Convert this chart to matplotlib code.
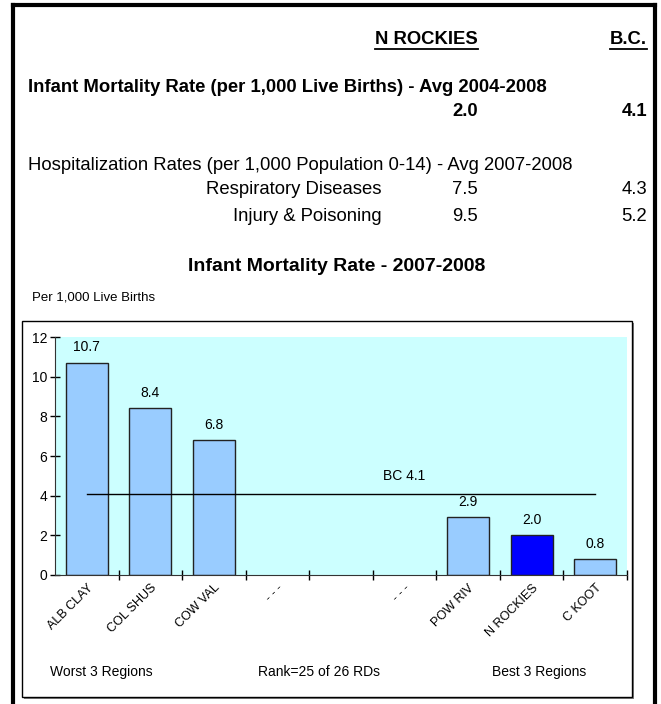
import numpy as np
import matplotlib
matplotlib.use("Agg")
import matplotlib.pyplot as plt
from matplotlib.lines import Line2D
from matplotlib.patches import Rectangle

plt.rcParams["font.family"] = ["Liberation Sans", "DejaVu Sans"]

# summary table at the top
col_heads = ["N ROCKIES", "B.C."]
imr_title = "Infant Mortality Rate (per 1,000 Live Births) - Avg 2004-2008"
imr_values = [2.0, 4.1]
hosp_title = "Hospitalization Rates (per 1,000 Population 0-14) - Avg 2007-2008"
hosp_rows = ["Respiratory Diseases", "Injury & Poisoning"]
hosp_nr = [7.5, 9.5]
hosp_bc = [4.3, 5.2]

# bar chart
regions = ["ALB CLAY", "COL SHUS", "COW VAL", "- - -", "", "- - -",
           "POW RIV", "N ROCKIES", "C KOOT"]
rates = [10.7, 8.4, 6.8, None, None, None, 2.9, 2.0, 0.8]
highlight = "N ROCKIES"
bc_rate = 4.1
footers = ["Worst 3 Regions", "Rank=25 of 26 RDs", "Best 3 Regions"]

W, H = 661, 704
fig = plt.figure(figsize=(W / 100, H / 100), dpi=100)


def fx(x):
    return x / W


def fy(y):
    return 1 - y / H


def txt(x, y, s, **kw):
    return fig.text(fx(x), fy(y), s, va="center", **kw)


# outer frame (open at the bottom)
frame_kw = dict(color="black", lw=3, transform=fig.transFigure)
fig.add_artist(Line2D([fx(13), fx(13)], [fy(5), 0], **frame_kw))
fig.add_artist(Line2D([fx(13), fx(655)], [fy(5), fy(5)], **frame_kw))
fig.add_artist(Line2D([fx(655), fx(655)], [fy(5), 0], **frame_kw))

# header table
col_right = [478, 647]
heads = [txt(x, 40, s, ha="right", fontsize=13.3, fontweight="bold")
         for x, s in zip(col_right, col_heads)]
txt(28, 88, imr_title, ha="left", fontsize=13.3, fontweight="bold")
for x, v in zip(col_right, imr_values):
    txt(x, 111, f"{v:.1f}", ha="right", fontsize=13.3, fontweight="bold")
txt(28, 166, hosp_title, ha="left", fontsize=13.3)
for i, name in enumerate(hosp_rows):
    y = 190 + i * 26
    txt(382, y, name, ha="right", fontsize=13.3)
    txt(col_right[0], y, f"{hosp_nr[i]:.1f}", ha="right", fontsize=13.3)
    txt(col_right[1], y, f"{hosp_bc[i]:.1f}", ha="right", fontsize=13.3)

# underline the column heads
renderer = fig.canvas.get_renderer()
for t in heads:
    bb = t.get_window_extent(renderer).transformed(fig.transFigure.inverted())
    fig.add_artist(Line2D([bb.x0, bb.x1], [bb.y0 - 0.001, bb.y0 - 0.001],
                          color="black", lw=1.3, transform=fig.transFigure))

# chart title and unit
txt(337, 266, "Infant Mortality Rate - 2007-2008", ha="center",
    fontsize=14, fontweight="bold")
txt(32, 298, "Per 1,000 Live Births", ha="left", fontsize=9.5)

# chart box with shadow
fig.add_artist(Rectangle((fx(24), fy(699)), fx(610), 376 / H,
                         transform=fig.transFigure, facecolor="#808080",
                         edgecolor="none", zorder=0))
fig.add_artist(Rectangle((fx(22), fy(697)), fx(610), 376 / H,
                         transform=fig.transFigure, facecolor="white",
                         edgecolor="black", lw=1, zorder=0.5))

ax = fig.add_axes([fx(55), fy(575), fx(627) - fx(55), fy(337) - fy(575)])
ax.set_zorder(2)
ax.set_facecolor("#CCFFFF")
x = np.arange(len(regions))
for i, (name, v) in enumerate(zip(regions, rates)):
    if v is None:
        continue
    color = "#0000FF" if name == highlight else "#99CCFF"
    ax.bar(i, v, width=0.66, color=color, edgecolor="#222222", lw=1, zorder=2)
    ax.annotate(f"{v:.1f}", (i, v), xytext=(0, 6), textcoords="offset points",
                ha="center", va="bottom", fontsize=10)

ax.plot([x[0], x[-1]], [bc_rate, bc_rate], color="black", lw=1, zorder=3)
ax.annotate(f"BC {bc_rate}", (5, bc_rate), xytext=(0, 13),
            textcoords="offset points", ha="center", va="center", fontsize=10)

ax.set_xlim(-0.5, len(regions) - 0.5)
ax.set_ylim(0, 12)
ax.set_yticks(np.arange(0, 13, 2))
ax.set_xticks(np.arange(0.5, len(regions), 1))
ax.set_xticklabels([])
ax.set_xticks(x, minor=True)
ax.set_xticklabels(regions, minor=True, rotation=45, ha="right",
                   rotation_mode="anchor", fontsize=9)
ax.tick_params(axis="x", which="minor", length=0, pad=5)
ax.tick_params(axis="both", which="major", direction="inout", length=7,
               width=1, labelsize=10)
ax.tick_params(axis="y", pad=2)
for side in ["top", "right"]:
    ax.spines[side].set_visible(False)
for side in ["left", "bottom"]:
    ax.spines[side].set_color("#333333")

for xc, s in zip([101, 319, 539], footers):
    txt(xc, 672, s, ha="center", fontsize=10)

fig.savefig("out.png", dpi=100)
